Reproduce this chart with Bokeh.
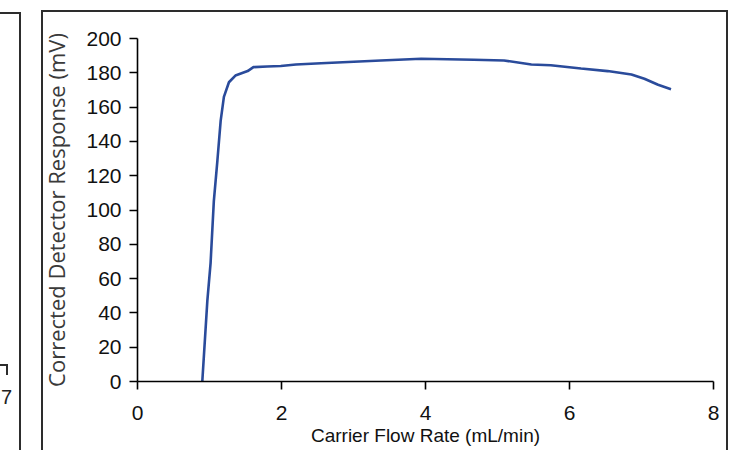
from bokeh.plotting import figure
from bokeh.models import Range1d, FixedTicker, Div
from bokeh.layouts import row
from bokeh.embed import file_html
from bokeh.resources import INLINE

# data
flow = [0.90, 0.97, 1.015, 1.06, 1.11, 1.155, 1.20, 1.27, 1.36, 1.53, 1.61, 1.80,
        1.99, 2.2, 2.55, 3.38, 3.94, 4.67, 5.09, 5.47, 5.74, 6.16, 6.53, 6.86,
        7.04, 7.23, 7.41]
resp = [0, 47, 69, 105, 129, 152, 166, 174.5, 178.4, 181, 183.3, 183.7,
        184, 184.8, 185.6, 187.2, 188.2, 187.6, 187.2, 184.8, 184.4, 182.5, 181, 179,
        176.5, 173, 170.4]
x_ticks = [0, 2, 4, 6, 8]
y_ticks = [0, 20, 40, 60, 80, 100, 120, 140, 160, 180, 200]
x_title = "Carrier Flow Rate (mL/min)"
y_title = "Corrected Detector Response (mV)"
fragment_tick = "7"

LEFT_W = 30
W, H = 741 - LEFT_W, 450
p = figure(width=W, height=H, output_backend="svg", toolbar_location=None,
           x_range=Range1d(0, 8), y_range=Range1d(0, 200),
           min_border_left=137 - LEFT_W, min_border_right=28,
           min_border_top=38, min_border_bottom=69)
p.margin = 0
p.outline_line_color = None
p.grid.visible = False
p.background_fill_color = None
p.border_fill_color = None

p.line(flow, resp, line_color="#2a4b9b", line_width=2.6)

for ax in (p.xaxis[0], p.yaxis[0]):
    ax.axis_line_color = "black"
    ax.axis_line_width = 1.6
    ax.major_tick_line_color = "black"
    ax.major_tick_line_width = 1.6
    ax.major_tick_in = 0
    ax.major_tick_out = 8
    ax.minor_tick_line_color = None
    ax.major_label_text_font = "Liberation Sans"
    ax.major_label_text_font_size = "21px"
    ax.major_label_text_color = "#111111"

p.xaxis.ticker = FixedTicker(ticks=x_ticks)
p.yaxis.ticker = FixedTicker(ticks=y_ticks)
p.xaxis.major_label_standoff = 16
p.yaxis.major_label_standoff = 8

p.xaxis.axis_label = x_title
p.xaxis.axis_label_text_font = "Liberation Sans"
p.xaxis.axis_label_text_font_size = "19px"
p.xaxis.axis_label_text_font_style = "normal"
p.xaxis.axis_label_text_color = "#111111"
p.xaxis.axis_label_standoff = 2

p.yaxis.axis_label = y_title
p.yaxis.axis_label_text_font = "Open Sans"
p.yaxis.axis_label_text_font_size = "22px"
p.yaxis.axis_label_text_font_style = "normal"
p.yaxis.axis_label_text_color = "#3a3a3a"
p.yaxis.axis_label_standoff = 12

# left strip: fragment of the neighbouring chart (its last tick label)
frag = Div(width=LEFT_W, height=H, margin=0,
           text=('<div style="position:absolute; left:1px; top:387px; '
                 'font-family:\'Liberation Sans\'; font-size:20px; line-height:20px; '
                 'color:#222222;">' + fragment_tick + '</div>'))

C = "#2d2d2d"
def seg(x, y, w, h):
    return f"linear-gradient({C},{C}) {x}px {y}px / {w}px {h}px no-repeat"

lines = [
    seg(0, 11.5, 21, 2.2),     # neighbour chart top edge
    seg(19, 11.5, 2.4, 460),   # neighbour chart right edge
    seg(0, 364, 7.5, 2),       # neighbour axis corner
    seg(5.8, 364, 2, 11),
    seg(41, 9.5, 687, 2.4),    # chart box top
    seg(41, 9.5, 2.4, 460),    # chart box left
    seg(725.8, 9.5, 2.4, 460), # chart box right
]
root = row(frag, p)
root.margin = 0
root.styles = {"background": ", ".join(lines) + ", white"}

open("out.html", "w").write(file_html(root, INLINE))
